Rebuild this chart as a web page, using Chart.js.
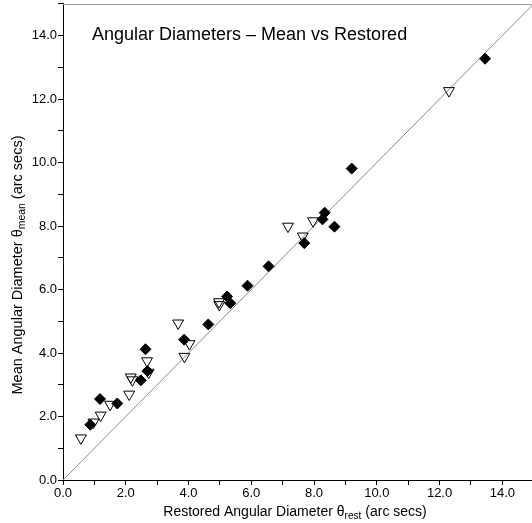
<!DOCTYPE html>
<html>
<head>
<meta charset="utf-8">
<script src="https://cdn.jsdelivr.net/npm/chart.js@4.4.1/dist/chart.umd.min.js"></script>
<style>
  html, body { margin: 0; padding: 0; background: #fff; overflow: hidden; }
  #wrap { width: 541px; height: 528px; margin-top: -5px; }
</style>
</head>
<body>
<div id="wrap"><canvas id="c" width="541" height="528"></canvas></div>
<script>
// ---- Data ----
const titleText = "Angular Diameters \u2013 Mean vs Restored";
const xTitleMain = "Restored Angular Diameter \u03b8";
const xTitleSub = "rest";
const yTitleMain = "Mean Angular Diameter \u03b8";
const yTitleSub = "mean";
const unitText = " (arc secs)";

const tickValues = [0, 2, 4, 6, 8, 10, 12, 14];
const tickLabels = ["0.0", "2.0", "4.0", "6.0", "8.0", "10.0", "12.0", "14.0"];

// Filled diamonds
const diamondX = [0.87, 1.18, 1.73, 2.48, 2.69, 2.63, 3.86, 4.63, 5.23, 5.33, 5.88, 6.55, 7.69, 8.27, 8.34, 8.65, 9.20, 13.45];
const diamondY = [1.74, 2.55, 2.41, 3.14, 3.43, 4.12, 4.42, 4.90, 5.78, 5.57, 6.12, 6.73, 7.46, 8.21, 8.42, 7.98, 9.81, 13.27];

// Open down-pointing triangles
const triangleX = [0.57, 0.97, 1.20, 1.50, 2.11, 2.16, 2.21, 2.73, 2.68, 3.67, 3.87, 4.03, 4.97, 4.98, 7.17, 7.64, 7.97, 12.30];
const triangleY = [1.32, 1.82, 2.04, 2.38, 2.70, 3.24, 3.15, 3.39, 3.75, 4.94, 3.89, 4.29, 5.61, 5.52, 7.99, 7.68, 8.16, 12.26];

// Equality line y = x
const lineX = [0, 15];
const lineY = [0, 15];

const axisMin = 0, axisMax = 15;

// ---- Build datasets ----
const toPts = (xs, ys) => xs.map((x, i) => ({ x: x, y: ys[i] }));

const FONT = "'Liberation Sans', Arial, Helvetica, sans-serif";
const SHIFT = 5; // canvas is shifted up by this many pixels

function tickCb(value) {
  const idx = tickValues.indexOf(value);
  return idx >= 0 ? tickLabels[idx] : '';
}

const overlay = {
  id: 'overlay',
  afterDraw(chart) {
    const ctx = chart.ctx;
    const ca = chart.chartArea;
    ctx.save();
    // top frame line
    ctx.strokeStyle = '#a0a0a0';
    ctx.lineWidth = 1;
    ctx.beginPath();
    ctx.moveTo(ca.left, Math.round(ca.top) + 0.5);
    ctx.lineTo(ca.right, Math.round(ca.top) + 0.5);
    ctx.stroke();

    ctx.fillStyle = '#000';
    ctx.textBaseline = 'alphabetic';
    // Title inside plot
    ctx.font = "18px " + FONT;
    ctx.textAlign = 'left';
    ctx.fillText(titleText, 92, 40 + SHIFT);

    // composite label with subscript
    function drawLabel(main, sub, tail, size) {
      ctx.font = size + "px " + FONT;
      const w1 = ctx.measureText(main).width;
      const w3 = ctx.measureText(tail).width;
      ctx.font = (size * 0.72) + "px " + FONT;
      const w2 = ctx.measureText(sub).width;
      const total = w1 + w2 + w3;
      let x = -total / 2;
      ctx.font = size + "px " + FONT;
      ctx.fillText(main, x, 0); x += w1;
      ctx.font = (size * 0.72) + "px " + FONT;
      ctx.fillText(sub, x, size * 0.22); x += w2;
      ctx.font = size + "px " + FONT;
      ctx.fillText(tail, x, 0);
    }
    // X title
    ctx.save();
    ctx.translate(295, 516 + SHIFT);
    drawLabel(xTitleMain, xTitleSub, unitText, 14);
    ctx.restore();
    // Y title
    ctx.save();
    ctx.translate(22, 265 + SHIFT);
    ctx.rotate(-Math.PI / 2);
    drawLabel(yTitleMain, yTitleSub, unitText, 14.5);
    ctx.restore();

    ctx.restore();
  }
};

new Chart(document.getElementById('c'), {
  type: 'scatter',
  data: {
    datasets: [
      {
        type: 'line',
        label: 'y = x',
        data: toPts(lineX, lineY),
        borderColor: '#8a8a8a',
        borderWidth: 1,
        pointRadius: 0,
        fill: false,
        order: 3
      },
      {
        label: 'Triangles',
        data: toPts(triangleX, triangleY),
        pointStyle: 'triangle',
        rotation: 180,
        pointRadius: 6.3,
        pointBackgroundColor: 'rgba(255,255,255,0)',
        pointBorderColor: '#000',
        pointBorderWidth: 1,
        order: 2
      },
      {
        label: 'Diamonds',
        data: toPts(diamondX, diamondY),
        pointStyle: 'rectRot',
        pointRadius: 5.5,
        pointBackgroundColor: '#000',
        pointBorderColor: '#000',
        pointBorderWidth: 1,
        order: 1
      }
    ]
  },
  options: {
    responsive: false,
    animation: false,
    devicePixelRatio: 1,
    layout: { padding: { left: 0, right: 1, top: 0, bottom: 0 } },
    plugins: {
      legend: { display: false },
      tooltip: { enabled: false },
      title: { display: false }
    },
    scales: {
      x: {
        type: 'linear',
        min: axisMin, max: axisMax,
        afterFit(s) { s.height = 43; },
        ticks: {
          stepSize: 1, autoSkip: false, maxRotation: 0,
          callback: tickCb,
          color: '#000',
          padding: 1,
          font: { family: FONT, size: 13 }
        },
        grid: { drawOnChartArea: false, drawTicks: true, tickLength: 5, color: '#000' },
        border: { display: true, color: '#000', width: 1 }
      },
      y: {
        type: 'linear',
        min: axisMin, max: axisMax,
        afterFit(s) { s.width = 63; },
        ticks: {
          stepSize: 1, autoSkip: false,
          callback: tickCb,
          color: '#000',
          padding: 1,
          font: { family: FONT, size: 13 }
        },
        grid: { drawOnChartArea: false, drawTicks: true, tickLength: 5, color: '#000' },
        border: { display: true, color: '#000', width: 1 }
      }
    }
  },
  plugins: [overlay]
});
</script>
</body>
</html>
